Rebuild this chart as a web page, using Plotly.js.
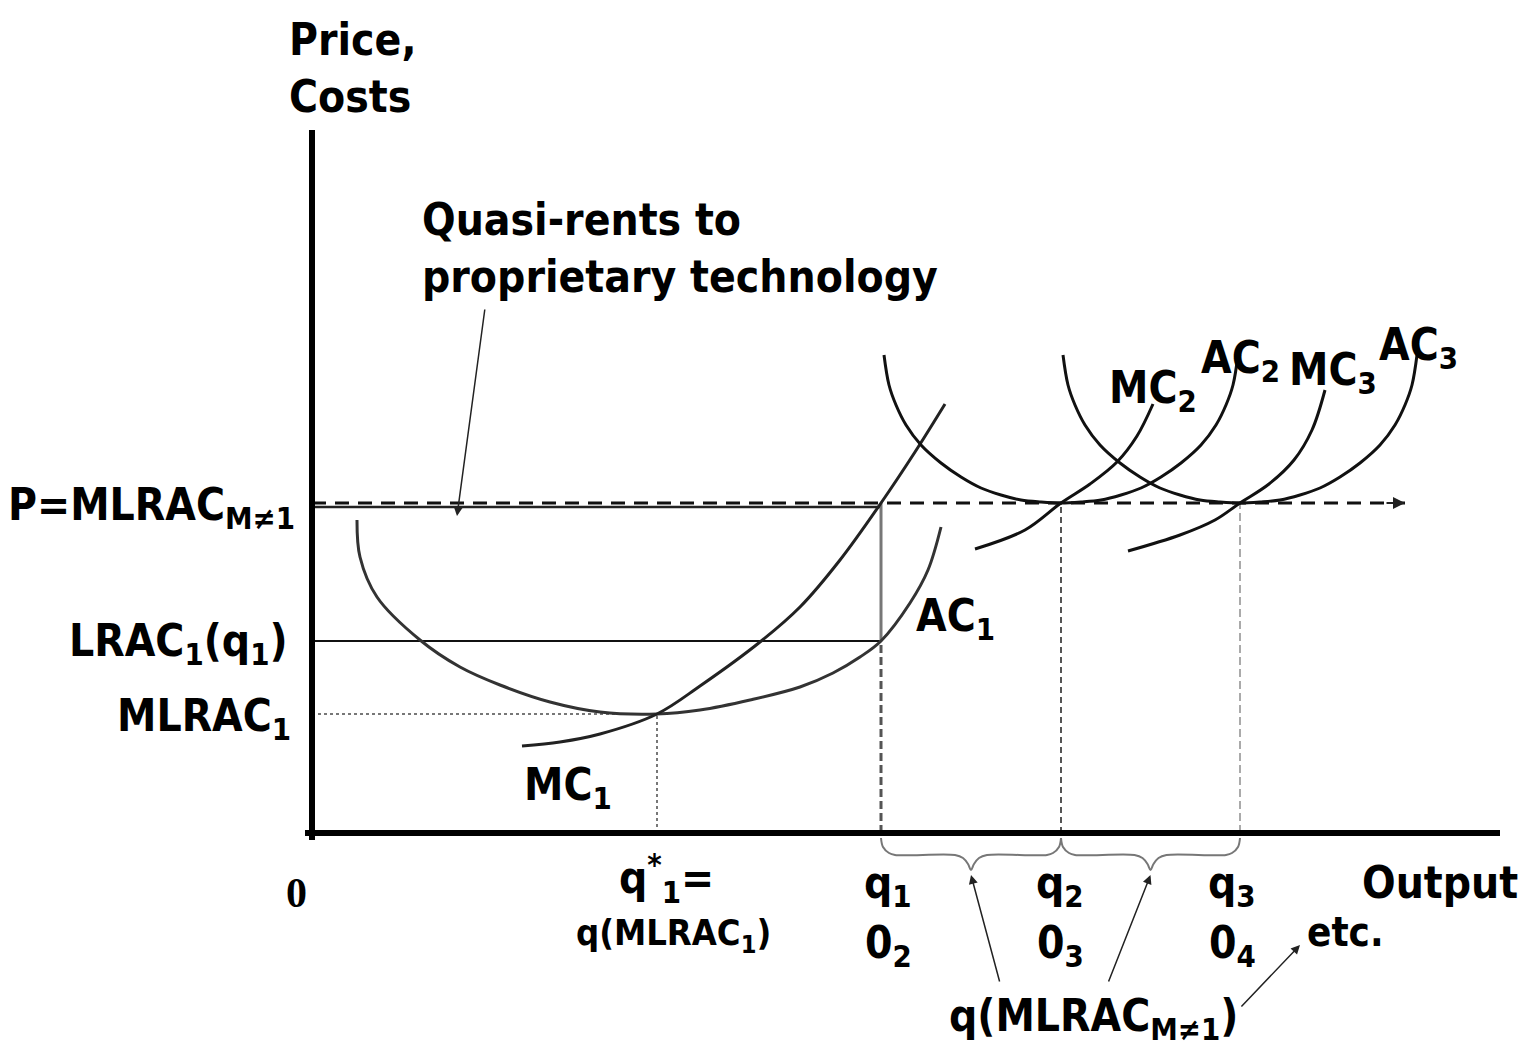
<!DOCTYPE html>
<html>
<head>
<meta charset="utf-8">
<script src="https://cdn.plot.ly/plotly-3.0.1.min.js"></script>
<style>html,body{margin:0;padding:0;background:#fff;}#chart{width:1525px;height:1047px;}</style>
</head>
<body>
<div id="chart"></div>
<script>
// ---- Values (output / price units of the diagram) ----
const outputMax = 1188;      // end of the output axis
const priceMax = 703;        // top of the price axis
const pLevel = 330;          // P = MLRAC_{M≠1}
const pSolidLevel = 326;     // solid price line just under the dashed one
const lrac1AtQ1 = 192;       // LRAC1(q1)
const mlrac1 = 119;          // MLRAC1
const qStar1 = 345;          // q*1 = q(MLRAC1)
const q1 = 569, q2 = 749, q3 = 928;
const priceArrowEnd = 1093;

const ac1X = [45, 48, 65, 108, 148, 188, 238, 288, 345, 388, 438, 488, 521, 548, 569, 598, 616, 629];
const ac1Y = [313, 276, 236, 193, 166, 148, 131, 121, 119, 123, 133, 146, 160, 176, 192, 230, 263, 306];

const mc1X = [210, 248, 288, 345, 388, 448, 488, 528, 569, 603, 633];
const mc1Y = [87, 91, 99, 119, 147, 191, 226, 273, 330, 381, 429];

const ac2X = [572, 577, 584, 594, 609, 629, 649, 669, 689, 709, 729, 749, 769, 789, 809, 829, 849, 869, 889, 904, 914, 921, 926];
const ac2Y = [478, 448, 428, 408, 388, 370, 356, 345, 338, 333, 331, 330, 331, 333, 338, 345, 356, 370, 388, 408, 428, 448, 478];

const ac3X = [751, 756, 763, 773, 788, 808, 828, 848, 868, 888, 908, 928, 948, 968, 988, 1008, 1028, 1048, 1068, 1083, 1093, 1100, 1105];
const ac3Y = [478, 448, 428, 408, 388, 370, 356, 345, 338, 333, 331, 330, 331, 333, 338, 345, 356, 370, 388, 408, 428, 448, 478];

const mc2X = [663, 713, 749, 778, 805, 825, 841];
const mc2Y = [284, 303, 330, 349, 371, 397, 429];

const mc3X = [816, 868, 903, 928, 957, 982, 1000, 1013];
const mc3Y = [282, 298, 313, 330, 349, 373, 403, 443];

// ---- helpers ----
const FONT = 'DejaVu Sans Condensed, DejaVu Sans, Verdana, sans-serif';
function line(x, y, color, width, dash, shape) {
  return {type: 'scatter', mode: 'lines', x: x, y: y, hoverinfo: 'skip', cliponaxis: false,
    line: {color: color, width: width, dash: dash || 'solid', shape: shape || 'linear', smoothing: 1}};
}
function brace(a, b) {
  const m = (a + b) / 2;
  return line(
    [a, a + 2, a + 8, a + 14, m - 16, m - 8, m - 3, m, m + 3, m + 8, m + 16, b - 14, b - 8, b - 2, b],
    [-5, -14, -20, -22, -22, -25, -31, -37, -31, -25, -22, -22, -20, -14, -5],
    '#777', 2, 'solid', 'spline');
}

const traces = [
  // reference lines
  line([0, qStar1], [mlrac1, mlrac1], '#777', 2, 'dot'),
  line([qStar1, qStar1], [0, mlrac1], '#777', 2, 'dot'),
  line([0, q1], [lrac1AtQ1, lrac1AtQ1], '#111', 2),
  line([0, q1], [pSolidLevel, pSolidLevel], '#222', 2.5),
  line([q1, q1], [lrac1AtQ1, pLevel], '#777', 3),
  line([q1, q1], [0, lrac1AtQ1], '#555', 3, '8px,4px'),
  line([q2, q2], [0, pLevel], '#555', 2, '6px,4px'),
  line([q3, q3], [0, pLevel], '#aaa', 2, '8px,4px'),
  line([0, priceArrowEnd], [pLevel, pLevel], '#111', 3, '14px,9px'),
  // cost curves
  line(ac1X, ac1Y, '#333', 3, 'solid', 'spline'),
  line(mc1X, mc1Y, '#222', 3, 'solid', 'spline'),
  line(ac2X, ac2Y, '#111', 3, 'solid', 'spline'),
  line(ac3X, ac3Y, '#111', 3, 'solid', 'spline'),
  line(mc2X, mc2Y, '#111', 3, 'solid', 'spline'),
  line(mc3X, mc3Y, '#111', 3, 'solid', 'spline'),
  // braces
  brace(q1, q2),
  brace(q2, q3),
  // axes
  line([0, 0], [-7, priceMax], '#000', 6),
  line([-7, outputMax], [0, 0], '#000', 6)
];

function label(text, x, y, size, xanchor, extra) {
  return Object.assign({xref: 'x', yref: 'y', x: x, y: y, text: text, showarrow: false,
    xanchor: xanchor || 'center', yanchor: 'middle',
    font: {family: FONT, size: size, color: '#000', weight: 'bold'}}, extra || {});
}
function arrow(x, y, ax, ay, w) {
  return {xref: 'x', yref: 'y', axref: 'x', ayref: 'y', x: x, y: y, ax: ax, ay: ay, text: '',
    showarrow: true, arrowhead: 2, arrowsize: 1.2, arrowwidth: w || 1.5, arrowcolor: '#222'};
}

const annotations = [
  label('Price,<br>Costs', -25, 765, 44, 'left', {align: 'left'}),
  label('Quasi-rents to<br>proprietary technology', 108, 585, 44, 'left', {align: 'left'}),
  label('P=MLRAC<sub>M≠1</sub>', -15, 326, 44, 'right'),
  label('LRAC<sub>1</sub>(q<sub>1</sub>)', -22, 190, 44, 'right'),
  label('MLRAC<sub>1</sub>', -19, 115, 44, 'right'),
  label('<b>0</b>', -16, -60, 42, 'center', {font: {family: 'Liberation Serif, serif', size: 42, color: '#000', weight: 'bold'}}),
  label('q<sup>*</sup><sub>1</sub>=', 354, -45, 44),
  label('q(MLRAC<sub>1</sub>)', 361, -102, 36),
  label('q<sub>1</sub>', 576, -52, 44),
  label('0<sub>2</sub>', 576, -112, 44),
  label('q<sub>2</sub>', 748, -52, 44),
  label('0<sub>3</sub>', 748, -112, 44),
  label('q<sub>3</sub>', 920, -52, 44),
  label('0<sub>4</sub>', 920, -112, 44),
  label('Output', 1128, -49, 44),
  label('etc.', 1033, -99, 40),
  label('q(MLRAC<sub>M≠1</sub>)', 781, -185, 44),
  label('AC<sub>1</sub>', 643, 215, 44),
  label('MC<sub>1</sub>', 256, 46, 44),
  label('MC<sub>2</sub>', 841, 443, 44),
  label('AC<sub>2</sub>', 928, 473, 44),
  label('MC<sub>3</sub>', 1021, 461, 44),
  label('AC<sub>3</sub>', 1106, 486, 44),
  // arrows
  arrow(145, 317, 173, 525),
  arrow(q1 + (q2 - q1) / 2, -42, 688, -150),
  arrow(q2 + (q3 - q2) / 2, -42, 796, -150),
  arrow(988, -112, 928, -175),
  arrow(priceArrowEnd, pLevel, priceArrowEnd - 20, pLevel, 2)
];

const layout = {
  width: 1525, height: 1047,
  margin: {l: 0, r: 0, t: 0, b: 0},
  paper_bgcolor: '#fff', plot_bgcolor: '#fff',
  showlegend: false,
  xaxis: {range: [-312, 1213], visible: false, fixedrange: true},
  yaxis: {range: [-214, 833], visible: false, fixedrange: true},
  annotations: annotations
};

Plotly.newPlot('chart', traces, layout, {staticPlot: true, displayModeBar: false});
</script>
</body>
</html>
